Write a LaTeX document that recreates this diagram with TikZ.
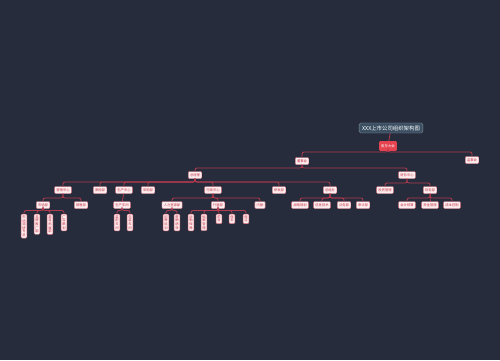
\documentclass[tikz,border=0pt]{standalone}
\usepackage{fontspec}
\newfontfamily\cjk{Noto Sans CJK SC}
\usetikzlibrary{calc}
\definecolor{bgnavy}{HTML}{262C3B}
\definecolor{linkred}{HTML}{B23A4E}
\definecolor{orgfill}{HTML}{FCEEEF}
\definecolor{orgborder}{HTML}{D9707E}
\definecolor{orgtext}{HTML}{C43245}
\definecolor{topicfill}{HTML}{3B4F63}
\definecolor{meetred}{HTML}{E5434F}
\tikzset{
  topic/.style={ % title box
    draw=topicfill!60!white, fill=topicfill, text=white, line width=0.4pt,
    rounded corners=1.5pt, inner xsep=3pt, inner ysep=2.5pt,
    font=\cjk\fontsize{5.4}{6}\selectfont
  },
  meeting/.style={ % red box under the title
    fill=meetred, text=white, rounded corners=1pt,
    inner xsep=2pt, minimum height=8pt,
    font=\cjk\fontsize{3.4}{4}\selectfont
  },
  org/.style={ % ordinary department box
    draw=orgborder, fill=orgfill, text=orgtext, line width=0.4pt,
    rounded corners=1pt, inner xsep=1.8pt, inner ysep=1.6pt, minimum height=7pt,
    font=\cjk\fontsize{3.3}{3.6}\selectfont
  },
  vorg/.style={ % upright box, one character per line
    org, align=center, anchor=north, inner xsep=1.2pt, inner ysep=1.4pt
  },
  link/.style={
    draw=linkred, line width=0.8pt, rounded corners=2pt
  }
}
\newcommand{\branch}[3]{\draw[link] (#1.south) -- (#1.south |- 0,#3) -| (#2.north);}

\begin{document}
\begin{tikzpicture}[x=1pt,y=-1pt]
  \fill[bgnavy] (0,0) rectangle (500,360);
  \useasboundingbox (0,0) rectangle (500,360);

  \node[topic] (title) at (391,128) {XXX上市公司组织架构图};
  \node[meeting] (gd) at (388,146) {股东大会};
  \node[org] (dsh) at (302,161) {董事会};
  \node[org] (jsh) at (472,160) {监事会};
  \node[org] (zjl) at (195,175) {总经理};
  \node[org] (cwzx) at (407,175) {财务中心};

  % third row
  \node[org] (yxzx) at (63,190) {营销中心};
  \node[org] (zjb) at (100,190) {质检部};
  \node[org] (sczx) at (124,190) {生产中心};
  \node[org] (cgb) at (148,190) {采购部};
  \node[org] (xzzx) at (213,190) {行政中心};
  \node[org] (yfb) at (279,190) {研发部};
  \node[org] (zjbg) at (330,190) {总经办};
  \node[org] (tzgl) at (385,190) {投资管理};
  \node[org] (cwb) at (430,190) {财务部};

  % fourth row
  \node[org] (scb) at (43,205) {市场部};
  \node[org] (xsb) at (81,205) {销售部};
  \node[org] (scjj) at (122,205) {生产车间};
  \node[org] (rlzy) at (172,205) {人力资源部};
  \node[org] (xzb) at (218,205) {行政部};
  \node[org] (nq) at (260,205) {内勤};
  \node[org] (zlgh) at (300,205) {战略规划};
  \node[org] (xxjs) at (322,205) {信息技术};
  \node[org] (fwb) at (344,205) {法务部};
  \node[org] (sjb) at (363,205) {审计部};
  \node[org] (kjhs) at (407,205) {会计核算};
  \node[org] (zjgl) at (430,205) {资金管理};
  \node[org] (cbkz) at (452,205) {成本控制};

  % upright boxes
  \node[vorg] (dy) at (24,214) {市\\场\\调\\研\\专\\员};
  \node[vorg] (pp) at (37,214) {品\\牌\\推\\广\\部};
  \node[vorg] (qd) at (50,214) {渠\\道\\拓\\展\\部};
  \node[vorg] (gg) at (64,214) {广\\告\\策\\划};
  \node[vorg] (zp) at (117,214) {装\\配\\车\\间};
  \node[vorg] (bz) at (130,214) {包\\装\\车\\间};
  \node[vorg] (zppx) at (166,214) {招\\聘\\培\\训};
  \node[vorg] (xcjx) at (177,214) {薪\\酬\\绩\\效};
  \node[vorg] (hq) at (191,214) {后\\勤\\保\\障};
  \node[vorg] (da) at (204,214) {档\\案\\管\\理};
  \node[vorg] (qt) at (219,214) {前\\台};
  \node[vorg] (ba) at (232,214) {保\\安};
  \node[vorg] (bj) at (246,214) {保\\洁};

  \draw[link] (title) -- (gd);
  \foreach \c in {dsh,jsh} {\branch{gd}{\c}{152}}
  \foreach \c in {zjl,cwzx} {\branch{dsh}{\c}{168}}
  \foreach \c in {yxzx,zjb,sczx,cgb,xzzx,yfb,zjbg} {\branch{zjl}{\c}{182}}
  \foreach \c in {tzgl,cwb} {\branch{cwzx}{\c}{183}}
  \foreach \c in {scb,xsb} {\branch{yxzx}{\c}{198}}
  \draw[link] (sczx) -- (scjj);
  \foreach \c in {rlzy,xzb,nq} {\branch{xzzx}{\c}{198}}
  \foreach \c in {zlgh,xxjs,fwb,sjb} {\branch{zjbg}{\c}{198}}
  \foreach \c in {kjhs,zjgl,cbkz} {\branch{cwb}{\c}{198}}
  \foreach \c in {dy,pp,qd,gg} {\branch{scb}{\c}{210.5}}
  \foreach \c in {zp,bz} {\branch{scjj}{\c}{210.5}}
  \foreach \c in {zppx,xcjx} {\branch{rlzy}{\c}{210.5}}
  \foreach \c in {hq,da,qt,ba,bj} {\branch{xzb}{\c}{210.5}}
\end{tikzpicture}
\end{document}
